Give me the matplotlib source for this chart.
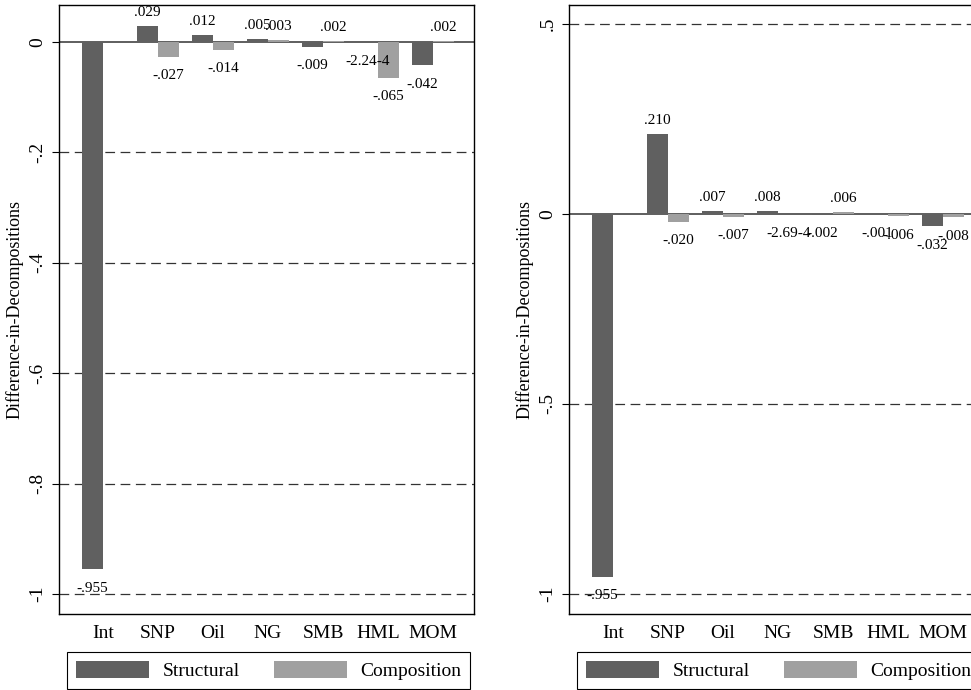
import matplotlib.pyplot as plt
from matplotlib.patches import Patch
import numpy as np

plt.rcParams['font.family'] = ['Liberation Serif', 'DejaVu Serif']
plt.rcParams['lines.scale_dashes'] = False

categories = ['Int', 'SNP', 'Oil', 'NG', 'SMB', 'HML', 'MOM']

left_structural = [-0.955, 0.029, 0.012, 0.005, -0.009, -0.000224, -0.042]
left_composition = [np.nan, -0.027, -0.014, 0.003, 0.002, -0.065, 0.002]

right_structural = [-0.955, 0.210, 0.007, 0.008, -0.002, -0.001, -0.032]
right_composition = [np.nan, -0.020, -0.007, -0.000269, 0.006, -0.006, -0.008]

left_ticks = [0, -0.2, -0.4, -0.6, -0.8, -1]
right_ticks = [0.5, 0, -0.5, -1]

dark = '#606060'
light = '#a0a0a0'


def tick_fmt(v):
    s = ('%g' % v)
    return s.replace('0.', '.', 1)


def val_fmt(v):
    if abs(v) < 0.0005:
        m, e = ('%.2e' % v).split('e')
        return m + str(int(e))
    return ('%.3f' % v).replace('0.', '.', 1)


W, H = 971, 690
fig = plt.figure(figsize=(W / 100, H / 100), dpi=100)


def panel(left_px, ylim, ticks, structural, composition):
    ax = fig.add_axes([left_px / W, 1 - 614 / H, 415 / W, 609 / H])
    x = np.arange(len(categories))
    w = 0.38
    s = np.array(structural)
    c = np.array(composition)
    ax.bar(x - w / 2, s, w, color=dark, zorder=2)
    b2 = ax.bar(x + w / 2, np.nan_to_num(c), w, color=light, zorder=2)
    for i in range(len(x)):
        if np.isnan(c[i]):
            b2[i].set_visible(False)
    for xs, vals in [(x - w / 2, s), (x + w / 2, c)]:
        for xi, v in zip(xs, vals):
            if np.isnan(v):
                continue
            if v >= 0:
                ax.annotate(val_fmt(v), (xi, v), xytext=(0, 5), textcoords='offset points',
                            ha='center', va='bottom', fontsize=11, zorder=4)
            else:
                ax.annotate(val_fmt(v), (xi, v), xytext=(0, -9), textcoords='offset points',
                            ha='center', va='top', fontsize=11, zorder=4)
    for t in ticks:
        if t == 0:
            ax.axhline(0, color='#333333', lw=1.1, zorder=1)
        else:
            ax.axhline(t, color='#333333', lw=0.9, dashes=(7, 4), zorder=1)
    ax.set_xlim(-0.8, 6.745)
    ax.set_ylim(*ylim)
    ax.set_yticks(ticks)
    ax.set_yticklabels([tick_fmt(t) for t in ticks], rotation=90, va='center')
    ax.set_xticks(x)
    ax.set_xticklabels(categories)
    ax.tick_params(axis='y', direction='out', length=5, width=0.8, labelsize=14, pad=4)
    ax.tick_params(axis='x', length=0, labelsize=14, pad=8)
    ax.set_ylabel('Difference-in-Decompositions', fontsize=13, labelpad=4)
    for sp in ax.spines.values():
        sp.set_color('black')
        sp.set_linewidth(1.0)
    handles = [Patch(facecolor=dark, label='Structural'),
               Patch(facecolor=light, label='Composition')]
    leg = ax.legend(handles=handles, ncol=2, loc='lower left',
                    bbox_to_anchor=((left_px + 8) / W, 1 / H), bbox_transform=fig.transFigure,
                    borderaxespad=0, fontsize=14, handlelength=3.75, handleheight=1.0,
                    handletextpad=0.72, columnspacing=1.75, borderpad=0.45,
                    fancybox=False, framealpha=1, edgecolor='black')
    leg.get_frame().set_linewidth(0.8)
    return ax


panel(59, (-1.036, 0.067), left_ticks, left_structural, left_composition)
panel(569, (-1.0527, 0.550), right_ticks, right_structural, right_composition)

fig.savefig('out.png', dpi=100)
